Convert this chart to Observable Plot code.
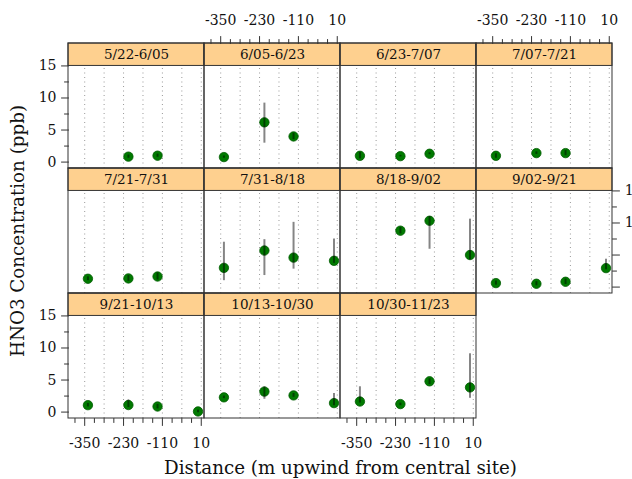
<!DOCTYPE html>
<html><head><meta charset="utf-8">
<script src="https://cdn.jsdelivr.net/npm/d3@7"></script>
<script src="https://cdn.jsdelivr.net/npm/@observablehq/plot@0.6"></script>
<style>body{margin:0;background:#fff}</style>
</head><body><div id="chart"></div>
<script>
// ---- data ----
const periods = ["5/22-6/05","6/05-6/23","6/23-7/07","7/07-7/21","7/21-7/31","7/31-8/18",
                 "8/18-9/02","9/02-9/21","9/21-10/13","10/13-10/30","10/30-11/23"];
const distances = [-340, -215, -125, 0];
const hno3 = [
  [null, 0.85, 1.0, null],
  [0.78, 6.2, 4.0, null],
  [0.98, 0.93, 1.3, null],
  [0.98, 1.4, 1.4, null],
  [1.3, 1.35, 1.65, null],
  [3.0, 5.7, 4.6, 4.1],
  [null, 8.8, 10.35, 5.0],
  [0.62, 0.52, 0.83, 2.96],
  [1.08, 1.1, 0.87, 0.1],
  [2.3, 3.2, 2.6, 1.4],
  [1.65, 1.25, 4.8, 3.85]
];
const lower = [
  [null, 0.6, 0.75, null],
  [0.6, 2.95, 3.5, null],
  [0.5, 0.8, 1.15, null],
  [0.6, 1.2, 1.0, null],
  [1.0, 0.9, 1.1, null],
  [1.0, 1.8, 2.8, 3.7],
  [null, 8.3, 5.9, 4.25],
  [0.3, 0.2, 0.4, 2.7],
  [0.8, 0.7, 0.5, -0.1],
  [2.1, 2.0, 2.3, 1.0],
  [1.4, 1.0, 4.3, 2.15]
];
const upper = [
  [null, 1.1, 1.25, null],
  [0.95, 9.2, 4.5, null],
  [1.5, 1.05, 1.45, null],
  [1.3, 1.6, 1.8, null],
  [1.6, 1.8, 2.2, null],
  [7.0, 7.4, 10.1, 7.5],
  [null, 9.3, 11.0, 10.6],
  [0.95, 0.85, 1.25, 4.35],
  [1.35, 1.9, 1.2, 0.3],
  [2.5, 3.95, 2.9, 2.9],
  [3.95, 1.4, 5.2, 9.1]
];
const xTickLabels = [-350, -230, -110, 10];
const xMinorTicks = [-380, -320, -290, -260, -200, -170, -140, -80, -50, -20];
const xGrid = [-350, -290, -230, -170, -110, -50, 10];
const yTickLabels = [0, 5, 10, 15];
const yMinorTicks = [2.5, 7.5, 12.5];

// ---- scale configuration ----
const xDomain = [-400, 20];
const yBottom = -1, yPanelTop = 15, yStripTop = 18.5;
const ncol = 4, nrow = 3;
const font = "DejaVu Serif";

const panels = periods.map((p, i) => ({period: p, col: i % ncol, row: Math.floor(i / ncol)}));
const obs = [];
periods.forEach((p, i) => distances.forEach((d, j) => {
  if (hno3[i][j] != null) obs.push({period: p, col: i % ncol, row: Math.floor(i / ncol),
    x: d, y: hno3[i][j], lo: lower[i][j], hi: upper[i][j]});
}));
const cross = (ps, vals) => ps.flatMap(p => vals.map(v => ({col: p.col, row: p.row, v})));

const topPanels = panels.filter(p => p.row === 0 && p.col % 2 === 1);
const bottomPanels = panels.filter(p => p.row === nrow - 1 && p.col % 2 === 0);
const leftPanels = panels.filter(p => p.col === 0 && p.row % 2 === 0);
const rightPanels = panels.filter(p => p.row % 2 === 1 && p.col === ncol - 1);

const tickShape = {draw(ctx, l) { ctx.moveTo(0, 0); ctx.lineTo(0, -l); }};
const F = {fx: "col", fy: "row"};
const axisColor = "#333";

function tickMarks(ps, vals, ch, anchor, rotate, length) {
  return Plot.vector(cross(ps, vals), {...F, [ch]: "v", frameAnchor: anchor, rotate, length,
    anchor: "start", shape: tickShape, stroke: axisColor, strokeWidth: 1});
}
function tickLabels(ps, vals, ch, anchor, opts) {
  return Plot.text(cross(ps, vals), {...F, [ch]: "v", text: d => String(d.v), frameAnchor: anchor,
    fontFamily: font, fontSize: 14, fill: "#111", lineAnchor: "middle", ...opts});
}

const chart = Plot.plot({
  width: 632, height: 479,
  marginLeft: 67.7, marginRight: 19.3, marginTop: 43.3, marginBottom: 60.7,
  style: {fontFamily: font, background: "white"},
  x: {domain: xDomain, axis: null},
  y: {domain: [yBottom, yStripTop], axis: null},
  fx: {domain: d3.range(ncol), padding: 0, axis: null},
  fy: {domain: d3.range(nrow), padding: 0, axis: null},
  marks: [
    Plot.ruleX(cross(panels, xGrid), {...F, x: "v", y1: yBottom, y2: yPanelTop,
      stroke: "#999", strokeWidth: 1, strokeDasharray: "1,3.5"}),
    Plot.rect(panels, {...F, y1: yPanelTop, y2: yStripTop, fill: "#fed08f", stroke: "#333"}),
    Plot.text(panels, {...F, text: "period", y: (yPanelTop + yStripTop) / 2,
      fontFamily: font, fontSize: 13.5, fill: "#111"}),
    Plot.dot(obs, {...F, x: "x", y: "y", r: 4.7, fill: "#007a00", stroke: "#005c00", strokeWidth: 0.8}),
    Plot.ruleX(obs, {...F, x: "x", y1: "lo", y2: "hi", stroke: "black", strokeOpacity: 0.48, strokeWidth: 2}),
    Plot.rect(panels, {...F, fill: "none", stroke: "#333", strokeWidth: 1}),
    // top axes
    tickMarks(topPanels, xTickLabels, "x", "top", 0, 7),
    tickMarks(topPanels, xMinorTicks, "x", "top", 0, 4),
    tickLabels(topPanels, xTickLabels, "x", "top", {dy: -23}),
    // bottom axes
    tickMarks(bottomPanels, xTickLabels, "x", "bottom", 180, 7),
    tickMarks(bottomPanels, xMinorTicks, "x", "bottom", 180, 4),
    tickLabels(bottomPanels, xTickLabels, "x", "bottom", {dy: 25}),
    // left axes
    tickMarks(leftPanels, yTickLabels, "y", "left", -90, 7),
    tickMarks(leftPanels, yMinorTicks, "y", "left", -90, 4),
    tickLabels(leftPanels, yTickLabels, "y", "left", {dx: -12, textAnchor: "end"}),
    // right axes (labels right-aligned past the page edge, as in the reference)
    tickMarks(rightPanels, yTickLabels, "y", "right", 90, 7),
    tickMarks(rightPanels, yMinorTicks, "y", "right", 90, 4),
    tickLabels(rightPanels, yTickLabels, "y", "right", {dx: 30, textAnchor: "end"}),
    // axis titles
    Plot.text(["Distance (m upwind from central site)"], {facet: "super", frameAnchor: "bottom",
      dy: 50, lineAnchor: "middle", textAnchor: "middle", fontFamily: font, fontSize: 18.3, fill: "#111"}),
    Plot.text(["HNO3 Concentration (ppb)"], {facet: "super", frameAnchor: "left", rotate: -90,
      dx: -50, lineAnchor: "middle", textAnchor: "middle", fontFamily: font, fontSize: 18.3, fill: "#111"})
  ]
});
document.getElementById("chart").appendChild(chart);
</script>
</body></html>
